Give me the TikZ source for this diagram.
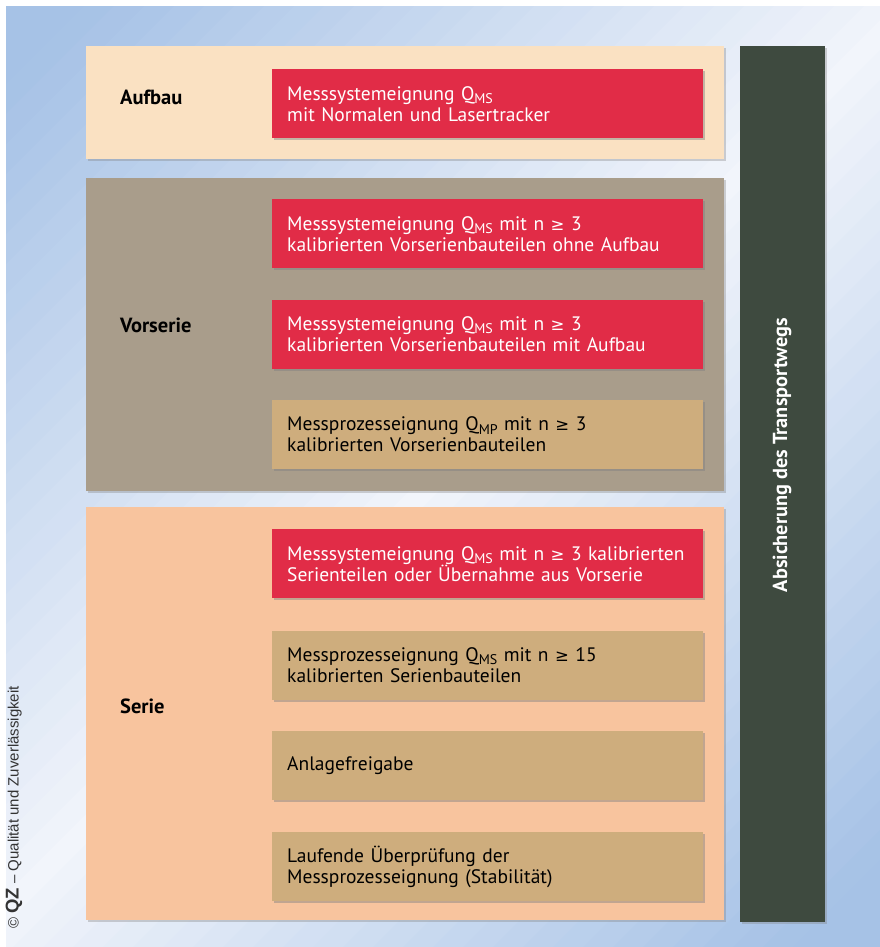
\documentclass[tikz,border=0pt]{standalone}
\usepackage{fontspec}
\setmainfont{PT Sans}
\newfontfamily\symfont{DejaVu Sans}
\newfontfamily\notefont{Liberation Sans}
\usetikzlibrary{positioning,shadows}

\definecolor{bgblue}{HTML}{A6C2E6}
\definecolor{bgwhite}{HTML}{F2F5FB}
\definecolor{aufbaucol}{HTML}{FAE1C2}
\definecolor{vorseriecol}{HTML}{A99D8B}
\definecolor{seriecol}{HTML}{F8C49E}
\definecolor{redcol}{HTML}{E12C47}
\definecolor{tancol}{HTML}{CEAD7D}
\definecolor{barcol}{HTML}{3E4A3F}

\newcommand{\qsub}[1]{Q\raisebox{-3.5pt}{\fontsize{14}{14}\selectfont #1}}
\newcommand{\gesym}{{\symfont\fontsize{16.5}{16.5}\selectfont ≥}}

\begin{document}
\begin{tikzpicture}[x=1pt, y=-1pt,
  band/.style={anchor=north west, inner sep=0pt, minimum width=638pt,
    drop shadow={shadow xshift=1.5pt, shadow yshift=-2pt, opacity=0.35}},
  stepbox/.style={anchor=north west, inner xsep=15pt, inner ysep=0pt,
    text width=401pt, minimum height=69pt, align=left,
    font=\fontsize{19.5}{21}\selectfont,
    drop shadow={shadow xshift=2pt, shadow yshift=-2pt, opacity=0.45}},
  redbox/.style={stepbox, fill=redcol, text=white},
  tanbox/.style={stepbox, fill=tancol, text=black},
  phase/.style={anchor=west, inner sep=0pt, font=\bfseries\fontsize{20.5}{22}\selectfont},
  node distance=31pt]

% Background, diagonal blue-white-blue
\useasboundingbox[fill=white] (0,0) rectangle (880,947);
\begin{scope}
  \clip (6,7) rectangle (880,947);
  \foreach \i in {0,...,60} {
    \pgfmathsetmacro{\dd}{\i*30}
    \pgfmathsetmacro{\pp}{min(100,abs(\i-30)/30*100*1.1)}
    \fill[bgblue!\pp!bgwhite] (\dd,0) -- (\dd+31,0) -- (\dd+31-1000,1000) -- (\dd-1000,1000) -- cycle;
  }
\end{scope}

% Phase bands
\node[band, fill=aufbaucol, minimum height=113pt] (aufbau) at (86,46) {};
\node[band, fill=vorseriecol, minimum height=313pt] (vorserie) at (86,178) {};
\node[band, fill=seriecol, minimum height=413pt] (serie) at (86,507) {};

% Transport bar
\node[anchor=north west, fill=barcol, minimum width=85pt, minimum height=876pt, inner sep=0pt,
  drop shadow={shadow xshift=1.5pt, shadow yshift=-2pt, opacity=0.35}] (transport) at (740,46) {};
\node[rotate=90, text=white, font=\bfseries\fontsize{20.3}{22}\selectfont] (transporttext) at (782,455) {Absicherung des Transportwegs};

% Phase labels
\node[phase] (laufbau) at (120,97) {Aufbau};
\node[phase] (lvorserie) at (120,325) {Vorserie};
\node[phase] (lserie) at (120,706) {Serie};

% Aufbau
\node[redbox] (a1) at (272,69) {Messsystemeignung \qsub{MS}\\mit Normalen und Lasertracker};

% Vorserie
\node[redbox] (v1) at (272,199) {Messsystemeignung \qsub{MS} mit n \gesym{} 3\\kalibrierten Vorserienbauteilen ohne Aufbau};
\node[redbox, below=31pt of v1] (v2) {Messsystemeignung \qsub{MS} mit n \gesym{} 3\\kalibrierten Vorserienbauteilen mit Aufbau};
\node[tanbox, below=31pt of v2] (v3) {Messprozesseignung \qsub{MP} mit n \gesym{} 3\\kalibrierten Vorserienbauteilen};

% Serie
\node[redbox] (s1) at (272,529) {Messsystemeignung \qsub{MS} mit n \gesym{} 3 kalibrierten\\Serienteilen oder Übernahme aus Vorserie};
\node[tanbox, below=32pt of s1] (s2) {Messprozesseignung \qsub{MS} mit n \gesym{} 15\\kalibrierten Serienbauteilen};
\node[tanbox, below=31pt of s2] (s3) {Anlagefreigabe};
\node[tanbox, below=32pt of s3] (s4) {Laufende Überprüfung der\\Messprozesseignung (Stabilität)};

% Copyright
\node[rotate=90, anchor=west, inner sep=0pt, text=black!80, font=\notefont\fontsize{15}{16}\selectfont] (copyright) at (14,929)
  {© {\fontsize{18.5}{18.5}\selectfont\bfseries QZ} – Qualität und Zuverlässigkeit};
\end{tikzpicture}
\end{document}
